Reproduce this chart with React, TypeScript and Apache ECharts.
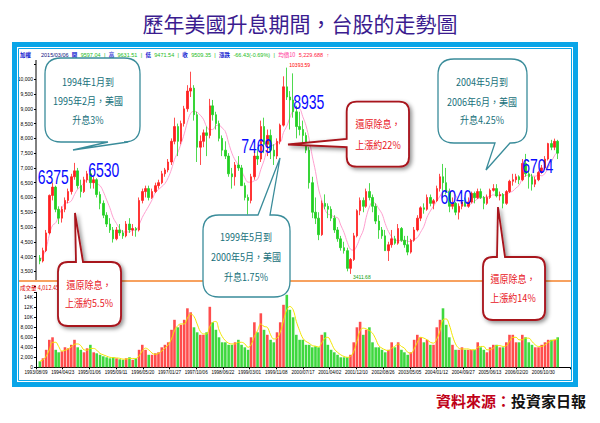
import React, { useEffect, useRef } from "react";
import * as echarts from "echarts";

// ---------- data (monthly) ----------
const xTickLabels = [
  "1993/08/09", "1994/04/23", "1995/01/06", "1995/09/11", "1996/05/20",
  "1997/01/27", "1997/10/06", "1998/06/22", "1999/03/01", "1999/11/08",
  "2000/07/17", "2001/04/02", "2001/12/10", "2002/08/26", "2003/05/05",
  "2004/01/12", "2004/09/27", "2005/06/13", "2006/02/20", "2006/10/30",
];

const months = [
  "1993-09", "1993-10", "1993-11", "1993-12",
  "1994-01", "1994-02", "1994-03", "1994-04", "1994-05", "1994-06", "1994-07", "1994-08", "1994-09", "1994-10", "1994-11", "1994-12",
  "1995-01", "1995-02", "1995-03", "1995-04", "1995-05", "1995-06", "1995-07", "1995-08", "1995-09", "1995-10", "1995-11", "1995-12",
  "1996-01", "1996-02", "1996-03", "1996-04", "1996-05", "1996-06", "1996-07", "1996-08", "1996-09", "1996-10", "1996-11", "1996-12",
  "1997-01", "1997-02", "1997-03", "1997-04", "1997-05", "1997-06", "1997-07", "1997-08", "1997-09", "1997-10", "1997-11", "1997-12",
  "1998-01", "1998-02", "1998-03", "1998-04", "1998-05", "1998-06", "1998-07", "1998-08", "1998-09", "1998-10", "1998-11", "1998-12",
  "1999-01", "1999-02", "1999-03", "1999-04", "1999-05", "1999-06", "1999-07", "1999-08", "1999-09", "1999-10", "1999-11", "1999-12",
  "2000-01", "2000-02", "2000-03", "2000-04", "2000-05", "2000-06", "2000-07", "2000-08", "2000-09", "2000-10", "2000-11", "2000-12",
  "2001-01", "2001-02", "2001-03", "2001-04", "2001-05", "2001-06", "2001-07", "2001-08", "2001-09", "2001-10", "2001-11", "2001-12",
  "2002-01", "2002-02", "2002-03", "2002-04", "2002-05", "2002-06", "2002-07", "2002-08", "2002-09", "2002-10", "2002-11", "2002-12",
  "2003-01", "2003-02", "2003-03", "2003-04", "2003-05", "2003-06", "2003-07", "2003-08", "2003-09", "2003-10", "2003-11", "2003-12",
  "2004-01", "2004-02", "2004-03", "2004-04", "2004-05", "2004-06", "2004-07", "2004-08", "2004-09", "2004-10", "2004-11", "2004-12",
  "2005-01", "2005-02", "2005-03", "2005-04", "2005-05", "2005-06", "2005-07", "2005-08", "2005-09", "2005-10", "2005-11", "2005-12",
  "2006-01", "2006-02", "2006-03", "2006-04", "2006-05", "2006-06", "2006-07", "2006-08", "2006-09", "2006-10", "2006-11", "2006-12",
  "2007-01", "2007-02", "2007-03",
];

const opens = [
  3950, 3850, 4200, 4800,
  6070, 6350, 5600, 5300, 5600, 5900, 6200, 6700, 6900, 6400, 6200, 6600,
  6800, 6500, 6600, 6100, 5800, 5400, 5100, 4900, 4600, 4900, 4800, 4700,
  5100, 4900, 4950, 4900, 5900, 6200, 6300, 6000, 6200, 6400, 6500, 6800,
  6933, 7200, 7900, 8400, 7900, 8500, 9000, 9600, 9700, 8800, 7700, 7900,
  8187, 8100, 9100, 8800, 8500, 8000, 7600, 7400, 6800, 6700, 7100, 7000,
  6400, 6000, 5900, 6700, 7400, 7300, 8400, 7800, 8100, 7600, 7400, 7900,
  8448, 9744, 9400, 9300, 8900, 8400, 8300, 8100, 7600, 6500, 5500, 5300,
  4740, 5800, 5700, 5600, 5300, 4900, 4600, 4300, 4200, 3600, 3900, 4700,
  5551, 5900, 5700, 6200, 6000, 5700, 5200, 4900, 4700, 4200, 4400, 4600,
  4452, 4950, 4550, 4400, 4150, 4550, 4900, 5300, 5650, 5600, 6000, 5800,
  5890, 6300, 6700, 6500, 6200, 5700, 5800, 5500, 5700, 5850, 5700, 5850,
  6139, 5990, 6200, 6000, 5800, 6000, 6240, 6300, 6050, 6100, 5800, 6200,
  6548, 6600, 6700, 6600, 7150, 6800, 6700, 6450, 6600, 6850, 7000, 7300,
  7823, 7700, 7900,
];

const highs = [
  4050, 4300, 4900, 6100,
  6500, 6400, 5700, 5700, 6000, 6300, 6800, 7170, 7000, 6600, 6700, 6900,
  6950, 6700, 6650, 6200, 5900, 5500, 5300, 5000, 5000, 5100, 4900, 5200,
  5300, 5100, 5000, 6000, 6300, 6400, 6400, 6300, 6500, 6600, 6900, 7000,
  7300, 8000, 8700, 8500, 8600, 9100, 9800, 10256, 9800, 8900, 8100, 8300,
  8400, 9337, 9300, 8900, 8600, 8100, 7900, 7500, 7000, 7200, 7400, 7100,
  6500, 6100, 6800, 7600, 7700, 8600, 8700, 8300, 8300, 7800, 8000, 8500,
  10100, 10393.59, 9600, 10200, 9100, 8900, 8600, 8200, 7700, 6700, 6000, 5500,
  5900, 6104, 5800, 5700, 5400, 5000, 4700, 4500, 4300, 3950, 4800, 5600,
  6000, 6000, 6300, 6484, 6100, 5800, 5400, 5000, 4900, 4500, 4900, 4700,
  5100, 5000, 4700, 4700, 4600, 5000, 5400, 5700, 5800, 6100, 6100, 5950,
  6400, 6800, 7135, 7000, 6300, 6000, 5850, 5800, 5900, 6000, 6000, 6200,
  6200, 6300, 6300, 6050, 6100, 6300, 6450, 6450, 6200, 6150, 6250, 6600,
  6800, 6800, 6750, 7300, 7474, 6900, 6800, 6700, 6900, 7100, 7400, 7850,
  7950, 7991, 7950,
];

const lows = [
  3740, 3800, 4150, 4750,
  5900, 5500, 5100, 5150, 5500, 5800, 6100, 6600, 6300, 6000, 6150, 6500,
  6300, 6300, 6000, 5600, 5300, 5000, 4800, 4474, 4550, 4700, 4600, 4650,
  4800, 4700, 4672, 4850, 5800, 6000, 5900, 5950, 6150, 6300, 6450, 6700,
  6850, 7100, 7800, 7400, 7800, 8400, 8900, 9400, 8600, 7200, 7100, 7700,
  7400, 8000, 8600, 8300, 7900, 7400, 7300, 6700, 6300, 6400, 6900, 6400,
  5900, 5422, 5800, 6600, 7100, 7200, 7500, 7400, 7300, 7100, 7300, 7800,
  8400, 9300, 8300, 8700, 8000, 8100, 7800, 7500, 6300, 5300, 5100, 4555,
  4700, 5600, 5300, 5200, 4800, 4500, 4200, 4100, 3500, 3411.68, 3850, 4650,
  5400, 5500, 5650, 5900, 5500, 5100, 4600, 4600, 4200, 3850, 4300, 4400,
  4400, 4500, 4300, 4044, 4100, 4500, 4850, 5200, 5450, 5550, 5700, 5600,
  5850, 6200, 6000, 6100, 5500, 5600, 5400, 5255, 5600, 5700, 5650, 5800,
  5800, 5950, 5950, 5600, 5750, 5950, 6200, 6000, 5900, 5632, 5750, 6150,
  6400, 6500, 6450, 6550, 6700, 6300, 6232, 6350, 6550, 6800, 6950, 7250,
  7600, 7600, 7300,
];

const closes = [
  3850, 4200, 4800, 6070,
  6350, 5600, 5300, 5600, 5900, 6200, 6700, 6900, 6400, 6200, 6600, 6800,
  6500, 6600, 6100, 5800, 5400, 5100, 4900, 4600, 4900, 4800, 4700, 5100,
  4900, 4950, 4900, 5900, 6200, 6300, 6000, 6200, 6400, 6500, 6800, 6933,
  7200, 7900, 8400, 7900, 8500, 9000, 9600, 9700, 8800, 7700, 7900, 8187,
  8100, 9100, 8800, 8500, 8000, 7600, 7400, 6800, 6700, 7100, 7000, 6400,
  6000, 5900, 6700, 7400, 7300, 8400, 7800, 8100, 7600, 7400, 7900, 8448,
  9744, 9400, 9300, 8900, 8400, 8300, 8100, 7600, 6500, 5500, 5300, 4740,
  5800, 5700, 5600, 5300, 4900, 4600, 4300, 4200, 3600, 3900, 4700, 5551,
  5900, 5700, 6200, 6000, 5700, 5200, 4900, 4700, 4200, 4400, 4600, 4452,
  4950, 4550, 4400, 4150, 4550, 4900, 5300, 5650, 5600, 6000, 5800, 5890,
  6300, 6700, 6500, 6200, 5700, 5800, 5500, 5700, 5850, 5700, 5850, 6139,
  5990, 6200, 6000, 5800, 6000, 6240, 6300, 6050, 6100, 5800, 6200, 6548,
  6600, 6700, 6600, 7150, 6800, 6700, 6450, 6600, 6850, 7000, 7300, 7823,
  7700, 7900, 7500,
];

const priceMA = [
  3850, 4025, 4283, 4730,
  5054, 5145, 5387, 5620, 5803, 5825, 5883, 6100, 6283, 6383, 6500, 6600,
  6567, 6517, 6467, 6400, 6200, 5917, 5650, 5317, 5117, 4950, 4833, 4833,
  4833, 4892, 4892, 5075, 5325, 5525, 5708, 5917, 6167, 6267, 6367, 6472,
  6672, 6956, 7289, 7522, 7806, 8150, 8550, 8850, 8917, 8883, 8783, 8648,
  8398, 8298, 8298, 8431, 8448, 8350, 8233, 7850, 7500, 7267, 7100, 6900,
  6667, 6517, 6517, 6567, 6617, 6950, 7250, 7617, 7767, 7767, 7867, 7875,
  8199, 8415, 8699, 8949, 9032, 9007, 8733, 8433, 7967, 7400, 6883, 6290,
  5907, 5590, 5440, 5407, 5340, 5317, 5067, 4817, 4483, 4250, 4217, 4375,
  4642, 4892, 5325, 5675, 5842, 5783, 5617, 5450, 5117, 4850, 4667, 4542,
  4550, 4525, 4559, 4517, 4509, 4583, 4642, 4825, 5025, 5333, 5542, 5707,
  5873, 6048, 6198, 6232, 6215, 6200, 6067, 5900, 5792, 5708, 5733, 5790,
  5872, 5955, 5980, 5997, 6022, 6038, 6090, 6065, 6082, 6082, 6115, 6166,
  6216, 6325, 6408, 6633, 6733, 6758, 6733, 6717, 6758, 6733, 6817, 7004,
  7212, 7429, 7537,
];

const volumes = [
  1200, 1800, 3500, 5500,
  6000, 3500, 3000, 3200, 4000, 3800, 4500, 5500, 4000, 3500, 3000, 3800,
  4500, 3000, 2800, 2500, 2200, 2000, 1800, 2000, 1800, 1600, 1500, 1800,
  2000, 1500, 1800, 3500, 4500, 3500, 2500, 2500, 2800, 3000, 4000, 4500,
  5000, 7500, 9500, 8000, 8500, 9500, 11800, 11000, 8000, 7000, 6500, 6500,
  7000, 12100, 9000, 7500, 6000, 5000, 5000, 4500, 4500, 5000, 5500, 4500,
  4000, 3500, 6000, 9000, 7000, 10800, 7500, 6500, 5500, 5000, 7000, 9000,
  12500, 14500, 11500, 10000, 6500, 5500, 5500, 4500, 4500, 4000, 4200, 4000,
  6500, 7000, 4500, 3500, 3000, 2500, 2000, 2000, 2000, 2500, 5000, 8000,
  9100, 6500, 7500, 8000, 5000, 4000, 4000, 3500, 3000, 3500, 5000, 4000,
  5000, 3500, 3000, 2500, 3000, 5500, 6500, 6000, 5000, 5500, 4500, 4500,
  8000, 9500, 11800, 8500, 6000, 4500, 3500, 3500, 4000, 3500, 3500, 3500,
  3500, 5000, 4000, 3500, 3000, 4000, 4500, 4500, 4000, 4000, 5000, 6500,
  6500, 5000, 5000, 6500, 6000, 5000, 4500, 4000, 4000, 4500, 5000, 5500,
  5500, 5500, 6000,
];

const volumeMA = [
  1200, 1500, 2200, 3500,
  5000, 5000, 4170, 3230, 3400, 3670, 4100, 4600, 4670, 4330, 3500, 3430,
  3770, 3770, 3430, 2770, 2500, 2230, 2000, 1930, 1870, 1800, 1630, 1630,
  1770, 1770, 1770, 2270, 3270, 3830, 3500, 2830, 2600, 2770, 3270, 3830,
  4500, 5670, 7330, 8330, 8670, 8670, 9830, 10670, 10170, 8670, 7170, 6670,
  6670, 8170, 9000, 9170, 7500, 6170, 5330, 4830, 4670, 4670, 5000, 5000,
  4670, 4000, 4500, 6170, 7330, 8670, 8170, 8000, 6500, 5670, 5830, 7000,
  9330, 11500, 12170, 11500, 9170, 7330, 5830, 5170, 4830, 4330, 4230, 4070,
  4900, 5830, 6000, 5000, 3670, 3000, 2500, 2170, 2000, 2170, 3170, 5170,
  7330, 7830, 7670, 7330, 6830, 5670, 4330, 3830, 3500, 3330, 3830, 4170,
  4670, 4170, 3830, 3000, 2830, 3670, 5000, 6000, 5830, 5500, 5000, 4830,
  5670, 7330, 9500, 9670, 8500, 6330, 4670, 3830, 3670, 3670, 3670, 3500,
  3500, 4000, 4170, 4170, 3500, 3500, 3830, 4330, 4330, 4170, 4330, 5170,
  6000, 6000, 5500, 5500, 5830, 5830, 5170, 4500, 4170, 4170, 4500, 5000,
  5330, 5500, 5670,
];

const levelLabels = ["6375", "6530", "7469", "8935", "6040", "6704"];
const peakMonth = "2000-02";
const troughMonth = "2001-10";

// ---------- helpers ----------
function toTime(s: string): number {
  const p = s.split(/[\/-]/).map(Number);
  return Date.UTC(p[0], p[1] - 1, p[2] || 15);
}
const tickTimes = xTickLabels.map(toTime);
function barIndex(t: number): number {
  const n = tickTimes.length;
  let k = n - 2;
  for (let i = 0; i < n - 1; i++) {
    if (t < tickTimes[i + 1]) { k = i; break; }
  }
  return 36 * (k + (t - tickTimes[k]) / (tickTimes[k + 1] - tickTimes[k]));
}
const xs = months.map((m) => barIndex(toTime(m)));

function calloutPath(x: number, y: number, w: number, h: number, r: number,
  side: string, b1: number, b2: number, tx: number, ty: number): string {
  const R = x + w, B = y + h;
  let d = `M${x + r} ${y}`;
  if (side === "top") d += ` L${b1} ${y} L${tx} ${ty} L${b2} ${y}`;
  d += ` L${R - r} ${y} Q${R} ${y} ${R} ${y + r} L${R} ${B - r} Q${R} ${B} ${R - r} ${B}`;
  if (side === "bottom") d += ` L${b2} ${B} L${tx} ${ty} L${b1} ${B}`;
  d += ` L${x + r} ${B} Q${x} ${B} ${x} ${B - r}`;
  if (side === "left") d += ` L${x} ${b2} L${tx} ${ty} L${x} ${b1}`;
  d += ` L${x} ${y + r} Q${x} ${y} ${x + r} ${y} Z`;
  return d;
}

const callouts = [
  { name: "calloutA", teal: true, box: [45, 58, 95, 84], r: 16, side: "bottom", base: [108, 128], tip: [73, 150],
    lines: ["1994年1月到", "1995年2月，美國", "升息3%"], tx: 88, ty: [81.7, 100.7, 120] },
  { name: "calloutB", teal: false, box: [58, 262, 63, 64], r: 10, side: "top", base: [76, 83], tip: [75, 213],
    lines: ["還原除息，", "上漲約5.5%"], tx: 89, ty: [284.5, 303] },
  { name: "calloutC", teal: true, box: [203, 215, 87, 82], r: 16, side: "top", base: [258, 270], tip: [280, 158],
    lines: ["1999年5月到", "2000年5月，美國", "升息1.75%"], tx: 246, ty: [236.7, 256.7, 276.7] },
  { name: "calloutD", teal: false, box: [346.7, 101.7, 62.3, 65], r: 10, side: "left", base: [139, 147], tip: [288, 144.5],
    lines: ["還原除息，", "上漲約22%"], tx: 378, ty: [124, 144.3] },
  { name: "calloutE", teal: true, box: [438, 59, 89, 84], r: 16, side: "bottom", base: [495, 510], tip: [486, 170],
    lines: ["2004年5月到", "2006年6月，美國", "升息4.25%"], tx: 482, ty: [81.7, 101.7, 120] },
  { name: "calloutF", teal: false, box: [483, 257, 62, 63], r: 10, side: "top", base: [497, 505], tip: [498, 207],
    lines: ["還原除息，", "上漲約14%"], tx: 513, ty: [279, 298] },
];

callouts.forEach((c) => {
  const d = calloutPath(c.box[0], c.box[1], c.box[2], c.box[3], c.r, c.side, c.base[0], c.base[1], c.tip[0], c.tip[1]);
  echarts.graphic.registerShape(c.name, echarts.graphic.extendPath(d, {}));
});

const levelPos = [[53.3, 176.7], [103.8, 170.5], [256.7, 145.7], [308.7, 101.8], [456, 196.7], [537.8, 165.8]];

const CJK = "'Noto Sans CJK TC', 'Noto Sans CJK SC', sans-serif";
const LAT = "'Liberation Sans', Arial, sans-serif";
const FRAME = "#0aa5e8";

function buildGraphic(): any[] {
  const g: any[] = [];
  // frame
  g.push({ type: "rect", z: 60, shape: { x: 14.5, y: 44.5, width: 561, height: 340 }, style: { fill: "none", stroke: FRAME, lineWidth: 5 } });
  g.push({ type: "rect", z: 60, shape: { x: 18.5, y: 48.5, width: 553, height: 332 }, style: { fill: "none", stroke: FRAME, lineWidth: 1 } });
  // title
  g.push({ type: "text", z: 60, x: 300, y: 23, style: { text: "歷年美國升息期間，台股的走勢圖", fill: "#3b1c8f", fontSize: 21, fontFamily: CJK,
    align: "center", verticalAlign: "middle", textAlign: "center", textVerticalAlign: "middle" } });
  // source
  g.push({ type: "text", z: 60, x: 586, y: 400, style: { text: "{a|資料來源：}{b|投資家日報}", align: "right", verticalAlign: "middle",
    textAlign: "right", textVerticalAlign: "middle",
    rich: { a: { fill: "#c00018", fontSize: 15, fontWeight: "bold", fontFamily: CJK }, b: { fill: "#111", fontSize: 15, fontWeight: "bold", fontFamily: CJK } } } });
  // header row
  g.push({ type: "text", z: 60, x: 20, y: 55, style: {
    text: "{b|加權}   {d|2015/03/06} {b|開} {g|9597.04} {g||} {b|高} {g|9631.51} {g||} {b|低} {g|9471.54} {g||} {b|收} {g|9509.35} {g||} {b|漲跌} {g|-66.43(-0.69%)} {g||} {p|均價10} {r|5,229.688} {r|↑}",
    verticalAlign: "middle", textVerticalAlign: "middle",
    rich: {
      b: { fill: "#1020d0", fontSize: 5.5, fontFamily: CJK, fontWeight: "bold" },
      d: { fill: "#101080", fontSize: 5.5, fontFamily: LAT },
      g: { fill: "#22bb22", fontSize: 5.5, fontFamily: LAT },
      p: { fill: "#ff3399", fontSize: 5.5, fontFamily: CJK },
      r: { fill: "#ff2040", fontSize: 5.5, fontFamily: LAT },
    } } });
  // volume header
  g.push({ type: "text", z: 60, x: 20, y: 287.5, style: { text: "成交量 4,012.45億 ( 均量10 5,236.10 )", fill: "#e00000", fontSize: 5.5, fontFamily: CJK,
    verticalAlign: "middle", textVerticalAlign: "middle" } });
  // orange separator & price axis line
  g.push({ type: "line", z: 55, shape: { x1: 18, y1: 281, x2: 572, y2: 281 }, style: { stroke: "#f5822a", lineWidth: 1.6 } });
  g.push({ type: "line", z: 55, shape: { x1: 36, y1: 60, x2: 36, y2: 280 }, style: { stroke: "#000", lineWidth: 1 } });
  // callouts
  callouts.forEach((c) => {
    g.push({ type: c.name, z: 70, x: 0, y: 0, style: c.teal
      ? { fill: "#fff", stroke: "#3a8c9a", lineWidth: 1.3 }
      : { fill: "#fff", stroke: "#a8121b", lineWidth: 1.8, shadowBlur: 4, shadowColor: "rgba(0,0,0,0.45)", shadowOffsetX: 2, shadowOffsetY: 2 } });
    c.lines.forEach((t, i) => {
      g.push({ type: "text", z: 71, x: c.tx, y: c.ty[i], scaleX: 0.86, style: { text: t, fill: c.teal ? "#17707a" : "#e8141b",
        fontSize: 10.5, fontFamily: CJK, align: "center", verticalAlign: "middle", textAlign: "center", textVerticalAlign: "middle" } });
    });
  });
  // blue level numbers
  levelLabels.forEach((t, i) => {
    g.push({ type: "text", z: 72, x: levelPos[i][0], y: levelPos[i][1], scaleX: 0.7, style: { text: t, fill: "#0a0aff", fontSize: 20,
      fontFamily: LAT, align: "center", verticalAlign: "middle", textAlign: "center", textVerticalAlign: "middle" } });
  });
  return g;
}

export default function App() {
  const ref = useRef<HTMLDivElement>(null);
  useEffect(() => {
    const chart = echarts.init(ref.current!, null, { renderer: "svg", width: 600, height: 423 });
    const pi = months.indexOf(peakMonth);
    const ti = months.indexOf(troughMonth);
    const option: any = {
      animation: false,
      backgroundColor: "#ffffff",
      textStyle: { fontFamily: LAT },
      grid: [
        { left: 36, right: 30, top: 64.5, bottom: 136.9 },
        { left: 36, right: 30, top: 292.3, bottom: 55.7 },
      ],
      xAxis: [
        { type: "value", gridIndex: 0, min: 0, max: 720, interval: 36, show: false },
        { type: "value", gridIndex: 1, min: 0, max: 720, interval: 36,
          axisLine: { show: true, lineStyle: { color: "#000", width: 1 } },
          axisTick: { show: true, length: 2, lineStyle: { color: "#000" } },
          splitLine: { show: false },
          axisLabel: { fontSize: 4.6, color: "#000", margin: 3, showMinLabel: true, hideOverlap: false,
            formatter: (v: number) => xTickLabels[Math.round(v / 36)] || "" } },
      ],
      yAxis: [
        { type: "value", gridIndex: 0, min: 3000, max: 10500, interval: 500,
          axisLine: { show: false }, splitLine: { show: false },
          axisTick: { show: true, length: 2, lineStyle: { color: "#000" } },
          axisLabel: { fontSize: 5, color: "#000", margin: 3,
            formatter: (v: number) => (v <= 3000 || v >= 10500 ? "" : v.toLocaleString("en-US")) } },
        { type: "value", gridIndex: 1, min: 0, max: 15000, interval: 2000,
          axisLine: { show: true, lineStyle: { color: "#000", width: 1 } }, splitLine: { show: false },
          axisTick: { show: true, length: 2, lineStyle: { color: "#000" } },
          axisLabel: { fontSize: 5, color: "#000", margin: 3,
            formatter: (v: number) => (v % 2000 !== 0 ? "" : v >= 10000 ? v / 1000 + "K" : v.toLocaleString("en-US")) } },
      ],
      series: [
        { type: "line", xAxisIndex: 0, yAxisIndex: 0, z: 1, symbol: "none", smooth: 0.4,
          data: xs.map((x, i) => [x, priceMA[i]]), lineStyle: { color: "#ff9fcf", width: 1 } },
        { type: "candlestick", xAxisIndex: 0, yAxisIndex: 0, z: 2, barWidth: 2,
          encode: { x: 0, y: [1, 2, 3, 4] },
          data: xs.map((x, i) => [x, opens[i], closes[i], lows[i], highs[i]]),
          itemStyle: { color: "#ff2020", color0: "#22d022", borderColor: "#ff2020", borderColor0: "#22d022", borderWidth: 0.8 },
          markPoint: { symbol: "circle", symbolSize: 1, itemStyle: { color: "rgba(0,0,0,0)" }, silent: true,
            data: [
              { coord: [xs[pi], highs[pi]], label: { show: true, position: "right", distance: 1, offset: [1, -3], color: "#ff0000", fontSize: 5,
                formatter: () => highs[pi].toFixed(2) } },
              { coord: [xs[ti], lows[ti]], label: { show: true, position: "right", distance: 1, offset: [1, 3], color: "#10a010", fontSize: 5,
                formatter: () => lows[ti].toFixed(2) } },
            ] } },
        { type: "bar", xAxisIndex: 1, yAxisIndex: 1, barWidth: 2.6, z: 2,
          data: xs.map((x, i) => [x, volumes[i]]),
          itemStyle: { color: (p: any) => (closes[p.dataIndex] >= opens[p.dataIndex] ? "#ff4d4d" : "#3fd83f") } },
        { type: "line", xAxisIndex: 1, yAxisIndex: 1, z: 3, symbol: "none", smooth: 0.4,
          data: xs.map((x, i) => [x, volumeMA[i]]), lineStyle: { color: "#f2e600", width: 1 } },
      ],
      graphic: buildGraphic(),
    };
    chart.setOption(option);
    return () => chart.dispose();
  }, []);
  return <div ref={ref} style={{ position: "fixed", left: 0, top: 0, width: 600, height: 423, background: "#fff" }} />;
}
